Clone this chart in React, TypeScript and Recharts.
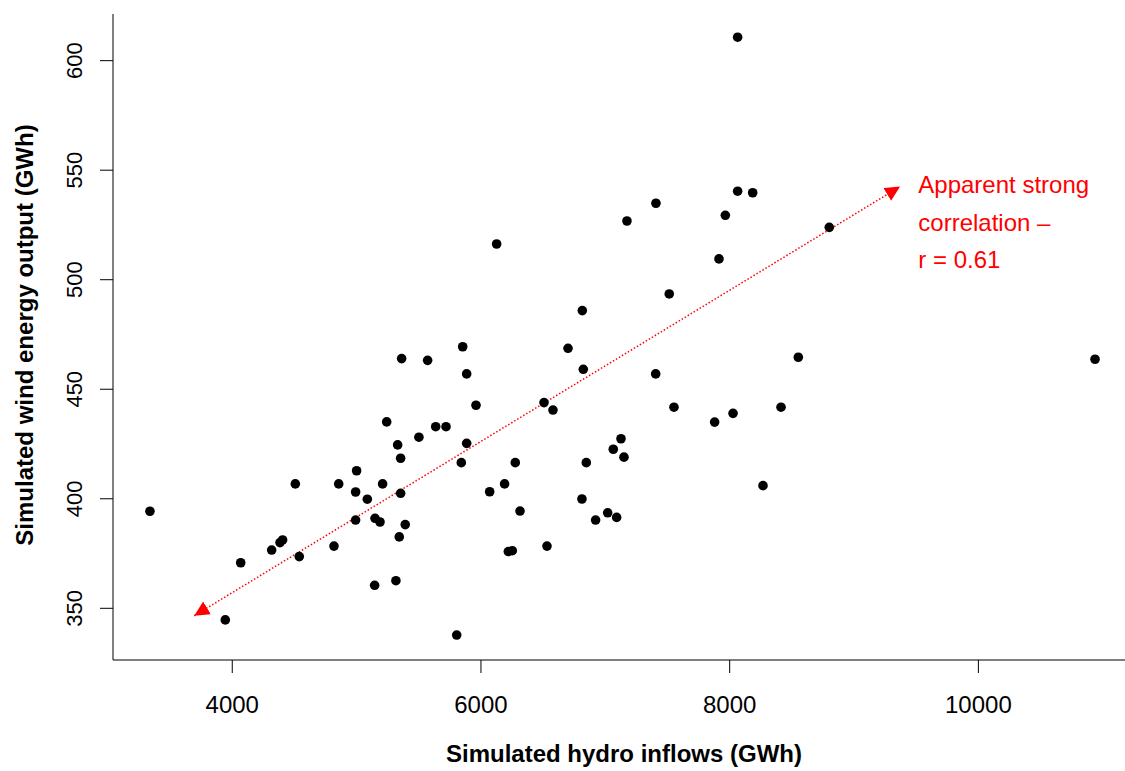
import React from 'react';
import { ScatterChart, Scatter, XAxis, YAxis, ReferenceLine, ReferenceDot } from 'recharts';

const FONT = '"Liberation Sans", Arial, Helvetica, sans-serif';

// Simulated hydro inflows (GWh)
const hydroInflows = [
  8064, 8064, 8185, 7407, 7174, 7965, 8801, 6126, 7914, 7514, 6815,
  3338, 3944, 4068, 4317, 4384, 4405, 4539, 4507, 4818, 4856, 4992, 5000, 4992, 5086,
  5145, 5148, 5188, 5209, 5242, 5316, 5330, 5343, 5354, 5354, 5362, 5391, 5501, 5571,
  5636, 5719, 5805, 5842, 5853, 5885, 5885, 5960, 6070,
  6700, 6823, 7405, 6507, 6579, 7552, 7879, 8027, 8413, 8552, 7126, 7064, 7150, 6276,
  6847, 6190, 8268, 6812, 6314, 7019, 7091, 6922, 6220, 6252, 6531,
  10938,
];

// Simulated wind energy output (GWh)
const windOutput = [
  610.7, 540.4, 539.7, 534.9, 526.8, 529.4, 523.9, 516.3, 509.5, 493.5, 485.9,
  394.3, 344.7, 370.8, 376.6, 380.0, 381.2, 373.6, 406.8, 378.4, 406.8, 403.1, 412.8, 390.3, 399.8,
  360.5, 391.1, 389.4, 406.8, 435.1, 362.6, 424.6, 382.6, 418.5, 402.5, 464.0, 388.2, 428.1, 463.2,
  432.9, 432.9, 337.8, 416.5, 469.4, 457.0, 425.3, 442.7, 403.2,
  468.7, 459.1, 457.0, 443.9, 440.5, 441.8, 435.0, 439.0, 441.8, 464.6, 427.4, 422.6, 419.0, 416.5,
  416.5, 406.8, 406.0, 399.9, 394.4, 393.6, 391.5, 390.3, 375.9, 376.3, 378.4,
  463.7,
];

const xTicks = [4000, 6000, 8000, 10000];
const yTicks = [350, 400, 450, 500, 550, 600];
const xDomain = [3041, 11179];
const yDomain = [326.4, 621.3];

const arrowStart = { x: 3694, y: 346.6 };
const arrowEnd = { x: 9370, y: 542.5 };
const annotationAnchor = { x: 9517, y: 539.5 };
const annotationLines = ['Apparent strong', 'correlation \u2013', 'r = 0.61'];

const data = hydroInflows.map((x, i) => ({ x, y: windOutput[i] }));

const XTick = (props: any) => {
  const { x, y, payload } = props;
  return (
    <text x={x} y={y + 38} textAnchor="middle" fontSize={24} fontFamily={FONT} fill="#000">
      {payload.value}
    </text>
  );
};

const YTick = (props: any) => {
  const { x, y, payload } = props;
  const bx = x - 16;
  return (
    <text
      x={bx}
      y={y}
      transform={`rotate(-90 ${bx} ${y})`}
      textAnchor="middle"
      fontSize={22}
      fontFamily={FONT}
      fill="#000"
    >
      {payload.value}
    </text>
  );
};

const XTitle = (props: any) => {
  const vb = props.viewBox || {};
  const cx = vb.x + vb.width / 2 + 5;
  return (
    <text x={cx} y={vb.y + 102} textAnchor="middle" fontSize={24} fontWeight="bold" fontFamily={FONT} fill="#000">
      Simulated hydro inflows (GWh)
    </text>
  );
};

const YTitle = (props: any) => {
  const vb = props.viewBox || {};
  const cy = vb.y + vb.height / 2 - 2;
  const bx = 33;
  return (
    <text
      x={bx}
      y={cy}
      transform={`rotate(-90 ${bx} ${cy})`}
      textAnchor="middle"
      fontSize={24}
      fontWeight="bold"
      fontFamily={FONT}
      fill="#000"
    >
      Simulated wind energy output (GWh)
    </text>
  );
};

const Annotation = (props: any) => {
  const { cx, cy } = props;
  return (
    <text x={cx} y={cy} fontSize={24} fontFamily={FONT} fill="#FF0000">
      {annotationLines.map((t, i) => (
        <tspan key={i} x={cx} y={cy + i * 37.5}>
          {t}
        </tspan>
      ))}
    </text>
  );
};

export default function App() {
  return (
    <div style={{ position: 'absolute', left: 0, top: 0, width: 1125, height: 771, background: '#fff', overflow: 'hidden' }}>
      <svg width={0} height={0} style={{ position: 'absolute' }}>
        <defs>
          <marker
            id="arrowHead"
            markerUnits="userSpaceOnUse"
            markerWidth={18}
            markerHeight={18}
            refX={15}
            refY={7.5}
            orient="auto-start-reverse"
          >
            <path d="M0,0 L15,7.5 L0,15 Z" fill="#FF0000" />
          </marker>
        </defs>
      </svg>
      <ScatterChart width={1125} height={771} margin={{ top: 14, right: 0, bottom: 0, left: 0 }}>
        <XAxis
          xAxisId="top"
          orientation="top"
          type="number"
          dataKey="x"
          domain={xDomain}
          allowDataOverflow
          height={0}
          tick={false}
          tickLine={false}
          axisLine={{ stroke: '#000', strokeWidth: 1 }}
        />
        <XAxis
          type="number"
          dataKey="x"
          domain={xDomain}
          allowDataOverflow
          ticks={xTicks}
          height={111}
          tickSize={13}
          tick={<XTick />}
          tickLine={{ stroke: '#000', strokeWidth: 1 }}
          axisLine={{ stroke: '#000', strokeWidth: 1 }}
          label={<XTitle />}
        />
        <YAxis
          type="number"
          dataKey="y"
          domain={yDomain}
          allowDataOverflow
          ticks={yTicks}
          width={113}
          tickSize={13}
          tick={<YTick />}
          tickLine={{ stroke: '#000', strokeWidth: 1 }}
          axisLine={{ stroke: '#000', strokeWidth: 1 }}
          label={<YTitle />}
        />
        <ReferenceLine
          segment={[arrowStart, arrowEnd]}
          stroke="#FF0000"
          strokeWidth={1.5}
          strokeDasharray="1.5 2"
          markerStart="url(#arrowHead)"
          markerEnd="url(#arrowHead)"
        />
        <Scatter data={data} fill="#000" isAnimationActive={false} shape={(p: any) => <circle cx={p.cx} cy={p.cy} r={4.8} fill="#000" />} />
        <ReferenceDot x={annotationAnchor.x} y={annotationAnchor.y} r={1} shape={<Annotation />} />
      </ScatterChart>
    </div>
  );
}
